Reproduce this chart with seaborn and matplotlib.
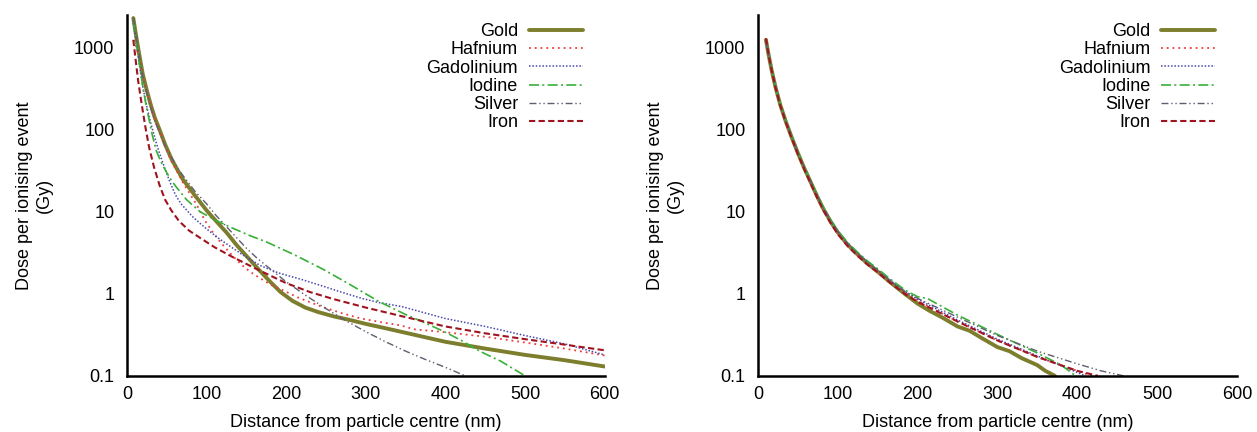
import numpy as np
import pandas as pd
import matplotlib
matplotlib.use("Agg")
import matplotlib.pyplot as plt
from matplotlib.ticker import FixedLocator, FixedFormatter, LogLocator, NullFormatter
import seaborn as sns

# ---- Left panel: dose profiles around nanoparticles of each element ----
gold_x = [8, 11, 14, 17, 20, 25, 30, 35, 41, 48, 56, 63, 70, 85, 100, 112, 125, 138, 150, 165, 180, 193,
          208, 224, 240, 260, 280, 300, 325, 350, 375, 400, 450, 500, 550, 600]
gold_y = [2300, 1500, 1000, 680, 470, 300, 200, 140, 100, 66, 44, 33, 25, 16, 10.4, 7.7, 5.6, 3.9, 2.9, 2.0, 1.4, 1.05,
          0.82, 0.68, 0.6, 0.53, 0.48, 0.43, 0.38, 0.335, 0.295, 0.26, 0.215, 0.18, 0.155, 0.13]

hafnium_x = [9, 12, 15, 20, 25, 30, 35, 41, 48, 56, 63, 70, 80, 88, 98, 108, 118, 130, 143, 155, 165, 180, 193,
             215, 244, 270, 294, 320, 345, 360, 380, 400, 450, 500, 550, 600]
hafnium_y = [1250, 1000, 760, 450, 290, 195, 135, 96, 62, 41, 31, 23, 16, 12, 7.8, 5.6, 4.2, 3.1, 2.3, 1.85, 1.6, 1.3, 1.14,
             0.9, 0.7, 0.58, 0.5, 0.45, 0.41, 0.37, 0.355, 0.34, 0.30, 0.255, 0.215, 0.177]

gadolinium_x = [8, 11, 14, 17, 20, 25, 30, 35, 40, 47, 54, 61, 68, 82, 92, 100, 112, 123, 145, 168, 190, 219,
                245, 269, 295, 317, 345, 370, 400, 450, 500, 550, 600]
gadolinium_y = [2000, 1300, 800, 500, 330, 190, 120, 80, 55, 35, 23, 16, 12.5, 8.8, 7.2, 6.2, 5.0, 4.2, 3.0, 2.2, 1.8, 1.5,
                1.25, 1.05, 0.88, 0.78, 0.7, 0.6, 0.5, 0.4, 0.31, 0.245, 0.18]

iodine_x = [8, 11, 15, 20, 24, 28, 32, 37, 43, 50, 56, 62, 75, 92, 110, 133, 155, 175, 210, 246, 280, 317,
            350, 375, 400, 420, 443, 470, 500]
iodine_y = [2100, 1300, 700, 330, 200, 130, 85, 55, 40, 30, 24, 20, 14, 10, 8, 6.3, 5.1, 4.3, 3.0, 2.0, 1.3, 0.8,
            0.56, 0.44, 0.34, 0.27, 0.2, 0.15, 0.1]

silver_x = [8, 11, 15, 20, 25, 30, 35, 41, 48, 56, 63, 70, 85, 100, 112, 125, 138, 150, 162, 175, 200, 225,
            250, 275, 300, 325, 350, 375, 400, 425]
silver_y = [2300, 1500, 850, 440, 280, 185, 130, 92, 63, 46, 35, 28, 18, 12.5, 9.0, 6.6, 4.8, 3.6, 2.8, 2.2, 1.4, 0.95,
            0.66, 0.47, 0.345, 0.26, 0.2, 0.158, 0.127, 0.1]

iron_x = [8, 11, 14, 18, 23, 28, 34, 41, 48, 56, 65, 78, 92, 110, 133, 163, 200, 230, 260, 300, 350, 400,
          450, 500, 550, 600]
iron_y = [1250, 700, 400, 220, 110, 60, 35, 21, 14, 10.3, 7.8, 5.9, 4.8, 3.7, 2.8, 2.0, 1.35, 1.05, 0.86, 0.68, 0.52, 0.4,
          0.33, 0.28, 0.24, 0.205]

# ---- Right panel: same elements, profiles nearly coincide ----
right_head_x = [10, 13, 17, 22, 28, 35, 42, 50, 58, 66, 74, 82, 91, 100, 112, 125, 137, 150, 165, 185, 200]

gold_r_x = right_head_x + [215, 230, 250, 265, 280, 300, 315, 330, 350, 360, 372]
gold_r_y = [1250, 850, 540, 330, 200, 125, 82, 52, 34, 23, 15.5, 10.8, 7.6, 5.6, 4.0, 3.0, 2.35, 1.86, 1.4, 0.98, 0.76,
            0.62, 0.52, 0.40, 0.355, 0.29, 0.224, 0.2, 0.165, 0.135, 0.115, 0.1]

hafnium_r_x = right_head_x + [250, 300, 350, 400, 418]
hafnium_r_y = [1300, 870, 545, 332, 201, 124, 81, 51, 33.5, 22.6, 15.2, 10.6, 7.5, 5.5, 3.95, 2.98, 2.35, 1.88, 1.43, 1.02, 0.82,
               0.46, 0.27, 0.17, 0.115, 0.1]

gadolinium_r_x = right_head_x + [250, 300, 350, 400, 410]
gadolinium_r_y = [1200, 840, 540, 335, 205, 128, 84, 53, 35, 23.5, 16, 11.2, 7.9, 5.8, 4.15, 3.12, 2.45, 1.95, 1.48, 1.06, 0.86,
                  0.48, 0.28, 0.175, 0.11, 0.1]

iodine_r_x = right_head_x + [212, 225, 250, 275, 300, 350, 380, 398]
iodine_r_y = [1150, 820, 535, 335, 206, 129, 85, 54, 35.5, 24, 16.3, 11.4, 8.0, 5.9, 4.25, 3.2, 2.52, 2.02, 1.53, 1.1, 0.92,
              0.88, 0.75, 0.55, 0.42, 0.32, 0.19, 0.135, 0.1]

silver_r_x = right_head_x + [250, 300, 350, 400, 430, 458]
silver_r_y = [1200, 840, 538, 332, 202, 126, 83, 52.5, 34.5, 23.3, 15.8, 11.0, 7.8, 5.7, 4.1, 3.1, 2.42, 1.93, 1.47, 1.05, 0.88,
              0.52, 0.31, 0.2, 0.14, 0.115, 0.1]

iron_r_x = right_head_x + [250, 300, 350, 400, 426]
iron_r_y = [1300, 860, 535, 325, 197, 122, 80, 50.5, 33, 22.2, 15, 10.4, 7.3, 5.35, 3.85, 2.9, 2.28, 1.83, 1.38, 0.98, 0.8,
            0.46, 0.27, 0.17, 0.115, 0.1]

elements = ["Gold", "Hafnium", "Gadolinium", "Iodine", "Silver", "Iron"]
y_ticks = [0.1, 1, 10, 100, 1000]
y_tick_labels = ["0.1", "1", "10", "100", "1000"]
x_ticks = [0, 100, 200, 300, 400, 500, 600]

left_data = {
    "Gold": (gold_x, gold_y),
    "Hafnium": (hafnium_x, hafnium_y),
    "Gadolinium": (gadolinium_x, gadolinium_y),
    "Iodine": (iodine_x, iodine_y),
    "Silver": (silver_x, silver_y),
    "Iron": (iron_x, iron_y),
}
right_data = {
    "Gold": (gold_r_x, gold_r_y),
    "Hafnium": (hafnium_r_x, hafnium_r_y),
    "Gadolinium": (gadolinium_r_x, gadolinium_r_y),
    "Iodine": (iodine_r_x, iodine_r_y),
    "Silver": (silver_r_x, silver_r_y),
    "Iron": (iron_r_x, iron_r_y),
}

styles = {
    "Gold": dict(color="#7d7d2e", lw=2.8, ls="-"),
    "Hafnium": dict(color="#f03a3a", lw=1.3, ls=(0, (1, 2.2))),
    "Gadolinium": dict(color="#4848b0", lw=1.1, ls=(0, (1, 1.2))),
    "Iodine": dict(color="#38b038", lw=1.2, ls=(0, (6, 2, 1.2, 2))),
    "Silver": dict(color="#5e5e70", lw=1.0, ls=(0, (5, 2, 1, 2, 1, 2))),
    "Iron": dict(color="#a01420", lw=1.5, ls=(0, (3, 1.6))),
}

sns.set_style("white")
plt.rcParams["font.family"] = ["Liberation Sans", "DejaVu Sans"]
plt.rcParams["font.size"] = 13
for key in ("text.color", "axes.labelcolor", "xtick.color", "ytick.color"):
    plt.rcParams[key] = "black"

fig = plt.figure(figsize=(12.57, 4.32), dpi=100)
ax_l = fig.add_axes([0.101, 0.130, 0.380, 0.835])
ax_r = fig.add_axes([0.603, 0.130, 0.381, 0.835])

for ax, data in ((ax_l, left_data), (ax_r, right_data)):
    for name in elements:
        xs, ys = data[name]
        df = pd.DataFrame({"distance": xs, "dose": ys})
        st = styles[name]
        sns.lineplot(data=df, x="distance", y="dose", ax=ax, color=st["color"],
                     linewidth=st["lw"], linestyle=st["ls"], label=name,
                     estimator=None, sort=False)

    ax.set_yscale("log")
    ax.set_xlim(0, 600)
    ax.set_ylim(0.1, 2500)
    ax.yaxis.set_major_locator(FixedLocator(y_ticks))
    ax.yaxis.set_major_formatter(FixedFormatter(y_tick_labels))
    ax.yaxis.set_minor_locator(LogLocator(base=10, subs=np.arange(2, 10)))
    ax.yaxis.set_minor_formatter(NullFormatter())
    ax.set_xticks(x_ticks)
    ax.set_xticklabels([str(v) for v in x_ticks])

    for side in ("top", "right"):
        ax.spines[side].set_visible(False)
    for side in ("left", "bottom"):
        ax.spines[side].set_linewidth(1.8)
        ax.spines[side].set_color("black")

    ax.tick_params(axis="both", which="major", direction="in", length=5, width=1.6,
                   labelsize=13, colors="black")
    ax.tick_params(axis="y", which="major", pad=9)
    ax.tick_params(axis="x", which="major", pad=7)
    ax.tick_params(axis="y", which="minor", direction="in", length=3, width=1.2, colors="black")

    ax.set_xlabel("Distance from particle centre (nm)", fontsize=13, labelpad=8)
    ax.set_ylabel("Dose per ionising event\n(Gy)", fontsize=13, ha="center")
    ax.yaxis.set_label_coords(-0.155, 0.5)

    leg = ax.legend(loc="upper right", bbox_to_anchor=(0.955, 0.978), frameon=False,
                    markerfirst=False, fontsize=13, handlelength=3.0,
                    handletextpad=0.6, labelspacing=0.07, borderpad=0,
                    borderaxespad=0)

fig.savefig("out.png", dpi=100, facecolor="white")
